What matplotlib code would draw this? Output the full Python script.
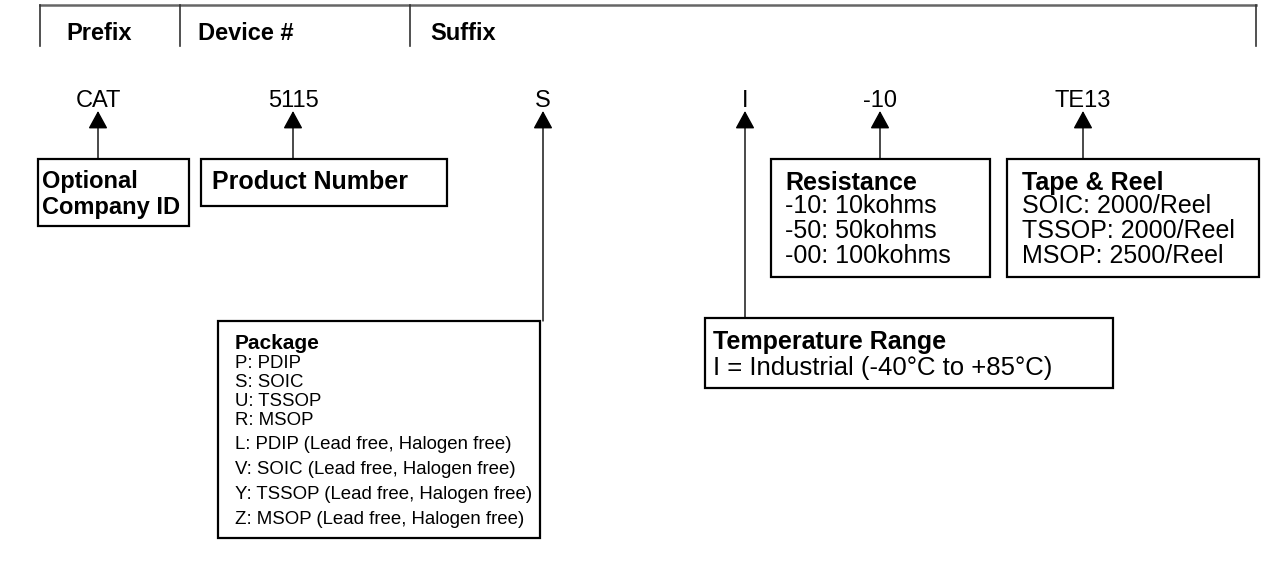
import matplotlib.pyplot as plt
from matplotlib.patches import Rectangle

plt.rcParams["font.family"] = ["Liberation Sans", "DejaVu Sans"]

# ordering-code parts and their descriptions
headers = ["Prefix", "Device #", "Suffix"]
codes = ["CAT", "5115", "S", "I", "-10", "TE13"]
titles = [
    ["Optional", "Company ID"],
    ["Product Number"],
    ["Package"],
    ["Temperature Range"],
    ["Resistance"],
    ["Tape & Reel"],
]
details = [
    [],
    [],
    ["P: PDIP", "S: SOIC", "U: TSSOP", "R: MSOP",
     "L: PDIP (Lead free, Halogen free)",
     "V: SOIC (Lead free, Halogen free)",
     "Y: TSSOP (Lead free, Halogen free)",
     "Z: MSOP (Lead free, Halogen free)"],
    ["I = Industrial (-40°C to +85°C)"],
    ["-10: 10kohms", "-50: 50kohms", "-00: 100kohms"],
    ["SOIC: 2000/Reel", "TSSOP: 2000/Reel", "MSOP: 2500/Reel"],
]

# layout in pixels (x0, y0, x1, y1 of each box; x of each code)
header_x = [66, 198, 430]
dividers = [40, 180, 410, 1256]
code_x = [98, 293, 543, 745, 880, 1083]
boxes = [
    (38, 159, 189, 226),
    (201, 159, 447, 206),
    (218, 321, 540, 538),
    (705, 318, 1113, 388),
    (771, 159, 990, 277),
    (1007, 159, 1259, 277),
]
title_y = [[188, 214], [189], [349], [349], [190], [190]]
detail_y = [
    [],
    [],
    [368, 387, 406, 425, 449, 474, 499, 524],
    [375],
    [213, 238, 263],
    [213, 238, 263],
]
text_dx = [4, 11, 17, 8, 14, 15]
title_size = [17, 18, 15, 18, 18, 18]
detail_size = [17, 18, 13.4, 18.5, 18, 18]

fig = plt.figure(figsize=(12.64, 5.67), dpi=100)
ax = fig.add_axes([0, 0, 1, 1])
ax.set_xlim(0, 1264)
ax.set_ylim(567, 0)
ax.axis("off")

# header bracket
ax.plot([40, 1256], [5, 5], color="#666666", lw=1.8)
for x in dividers:
    ax.plot([x, x], [5, 46], color="#333333", lw=1.2)
for x, h in zip(header_x, headers):
    ax.text(x, 40, h, fontsize=17, fontweight="bold", va="baseline", ha="left")

for i, code in enumerate(codes):
    x = code_x[i]
    x0, y0, x1, y1 = boxes[i]
    ax.text(x, 107, code, fontsize=17, ha="center", va="baseline")
    ax.annotate(
        "", xy=(x, 111), xytext=(x, y0),
        arrowprops=dict(arrowstyle="-|>,head_length=1.1,head_width=0.6",
                        color="black", lw=1.0, shrinkA=0, shrinkB=0),
    )
    ax.add_patch(Rectangle((x0, y0), x1 - x0, y1 - y0, fill=False,
                           edgecolor="black", lw=1.6))
    for t, y in zip(titles[i], title_y[i]):
        ax.text(x0 + text_dx[i], y, t, fontsize=title_size[i],
                fontweight="bold", ha="left", va="baseline")
    for t, y in zip(details[i], detail_y[i]):
        ax.text(x0 + text_dx[i], y, t, fontsize=detail_size[i],
                ha="left", va="baseline")

fig.savefig("out.png", dpi=100)
